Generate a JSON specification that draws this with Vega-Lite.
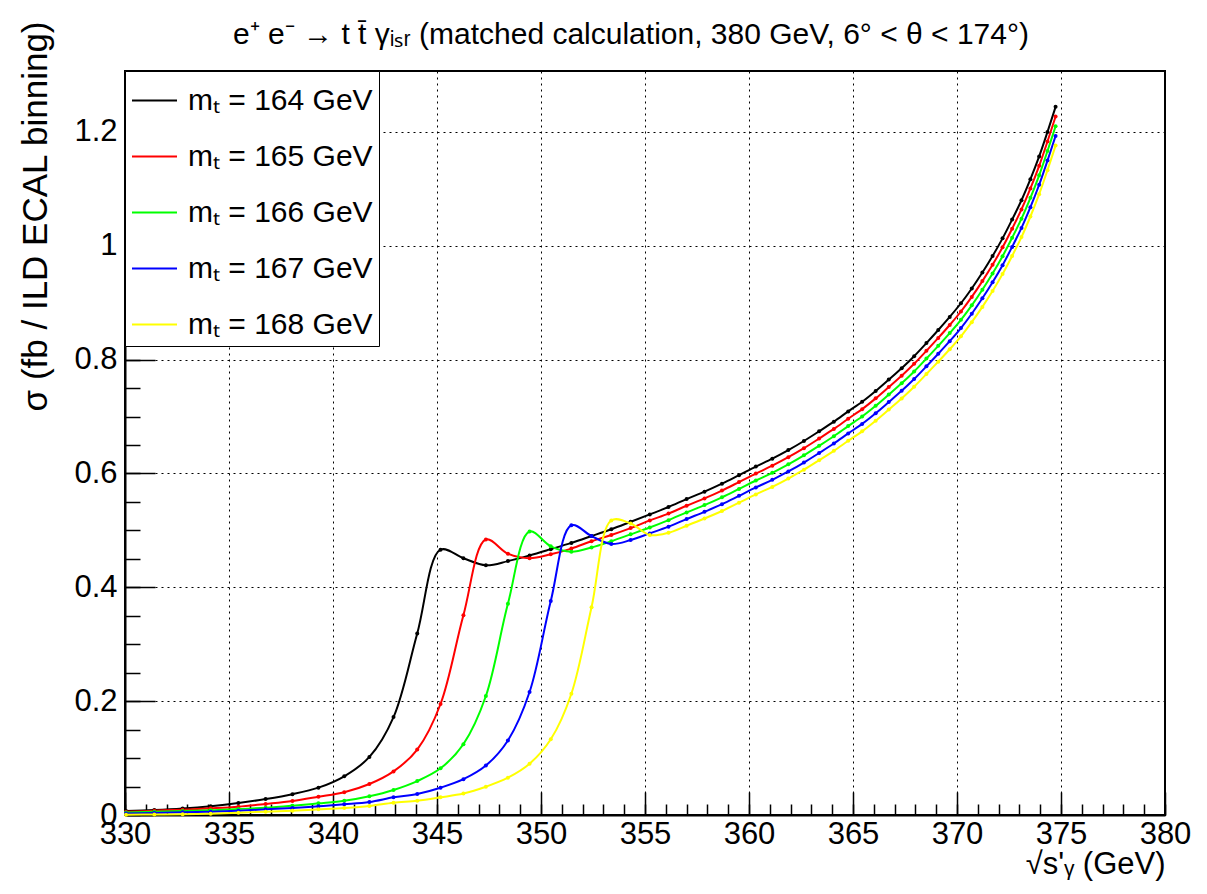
{
  "$schema": "https://vega.github.io/schema/vega-lite/v6.json",
  "width": 1040,
  "height": 744,
  "autosize": {"type": "none"},
  "padding": {"left": 125, "top": 71, "right": 42, "bottom": 79},
  "background": "white",
  "config": {"font": "Liberation Sans", "view": {"stroke": "black", "strokeWidth": 2}},
  "title": {"text": "e⁺ e⁻ → t t̄ γᵢₛᵣ (matched calculation, 380 GeV, 6° < θ < 174°)", "fontSize": 30, "fontWeight": "normal", "font": "Liberation Sans", "color": "black", "offset": 0, "dy": 29, "dx": -14, "anchor": "middle", "frame": "group"},
  "data": {"values": [
    {"x": 330.05, "m164": 0.0070, "m165": 0.0056, "m166": 0.0042, "m167": 0.0027, "m168": 0.0005},
    {"x": 331.41, "m164": 0.0088, "m165": 0.0076, "m166": 0.0058, "m167": 0.0035, "m168": 0.0009},
    {"x": 332.77, "m164": 0.0115, "m165": 0.0093, "m166": 0.0070, "m167": 0.0047, "m168": 0.0013},
    {"x": 334.12, "m164": 0.0155, "m165": 0.0117, "m166": 0.0082, "m167": 0.0058, "m168": 0.0023},
    {"x": 335.45, "m164": 0.021, "m165": 0.0146, "m166": 0.0105, "m167": 0.0076, "m168": 0.0041},
    {"x": 336.76, "m164": 0.028, "m165": 0.0193, "m166": 0.0128, "m167": 0.0100, "m168": 0.0058},
    {"x": 338.05, "m164": 0.0365, "m165": 0.0245, "m166": 0.0164, "m167": 0.0123, "m168": 0.0076},
    {"x": 339.3, "m164": 0.048, "m165": 0.032, "m166": 0.0205, "m167": 0.0152, "m168": 0.0099},
    {"x": 340.54, "m164": 0.068, "m165": 0.040, "m166": 0.025, "m167": 0.0187, "m168": 0.0123},
    {"x": 341.75, "m164": 0.102, "m165": 0.0544, "m166": 0.033, "m167": 0.0228, "m168": 0.0158},
    {"x": 342.91, "m164": 0.172, "m165": 0.0766, "m166": 0.044, "m167": 0.031, "m168": 0.0216},
    {"x": 344.05, "m164": 0.319, "m165": 0.115, "m166": 0.0596, "m167": 0.037, "m168": 0.025},
    {"x": 345.17, "m164": 0.466, "m165": 0.195, "m166": 0.082, "m167": 0.048, "m168": 0.031},
    {"x": 346.27, "m164": 0.451, "m165": 0.351, "m166": 0.1245, "m167": 0.063, "m168": 0.0377},
    {"x": 347.35, "m164": 0.4386, "m165": 0.484, "m166": 0.209, "m167": 0.087, "m168": 0.0497},
    {"x": 348.41, "m164": 0.446, "m165": 0.459, "m166": 0.371, "m167": 0.131, "m168": 0.0655},
    {"x": 349.45, "m164": 0.456, "m165": 0.451, "m166": 0.498, "m167": 0.216, "m168": 0.090},
    {"x": 350.47, "m164": 0.467, "m165": 0.458, "m166": 0.472, "m167": 0.376, "m168": 0.133},
    {"x": 351.46, "m164": 0.478, "m165": 0.468, "m166": 0.4626, "m167": 0.509, "m168": 0.213},
    {"x": 352.43, "m164": 0.490, "m165": 0.481, "m166": 0.470, "m167": 0.490, "m168": 0.365},
    {"x": 353.38, "m164": 0.502, "m165": 0.492, "m166": 0.481, "m167": 0.476, "m168": 0.5175},
    {"x": 354.31, "m164": 0.515, "m165": 0.504, "m166": 0.493, "m167": 0.483, "m168": 0.512},
    {"x": 355.23, "m164": 0.528, "m165": 0.5175, "m166": 0.505, "m167": 0.4947, "m168": 0.492},
    {"x": 356.13, "m164": 0.541, "m165": 0.5295, "m166": 0.518, "m167": 0.5065, "m168": 0.496},
    {"x": 357.0, "m164": 0.555, "m165": 0.5433, "m166": 0.5316, "m167": 0.5199, "m168": 0.5082},
    {"x": 357.86, "m164": 0.568, "m165": 0.5562, "m166": 0.5444, "m167": 0.5326, "m168": 0.5208},
    {"x": 358.7, "m164": 0.582, "m165": 0.570, "m166": 0.558, "m167": 0.546, "m168": 0.534},
    {"x": 359.52, "m164": 0.597, "m165": 0.5849, "m166": 0.5728, "m167": 0.5607, "m168": 0.5486},
    {"x": 360.33, "m164": 0.612, "m165": 0.5998, "m166": 0.5876, "m167": 0.5754, "m168": 0.5632},
    {"x": 361.12, "m164": 0.626, "m165": 0.6136, "m166": 0.6012, "m167": 0.5888, "m168": 0.5764},
    {"x": 361.89, "m164": 0.641, "m165": 0.6285, "m166": 0.616, "m167": 0.6035, "m168": 0.591},
    {"x": 362.64, "m164": 0.657, "m165": 0.6444, "m166": 0.6318, "m167": 0.6192, "m168": 0.6066},
    {"x": 363.37, "m164": 0.674, "m165": 0.6613, "m166": 0.6486, "m167": 0.6359, "m168": 0.6232},
    {"x": 364.08, "m164": 0.691, "m165": 0.6782, "m166": 0.6654, "m167": 0.6526, "m168": 0.6398},
    {"x": 364.77, "m164": 0.709, "m165": 0.6961, "m166": 0.6832, "m167": 0.6703, "m168": 0.6574},
    {"x": 365.44, "m164": 0.726, "m165": 0.713, "m166": 0.700, "m167": 0.687, "m168": 0.674},
    {"x": 366.09, "m164": 0.745, "m165": 0.7319, "m166": 0.7188, "m167": 0.7057, "m168": 0.6926},
    {"x": 366.72, "m164": 0.765, "m165": 0.7518, "m166": 0.7386, "m167": 0.7254, "m168": 0.7122},
    {"x": 367.34, "m164": 0.785, "m165": 0.7717, "m166": 0.7584, "m167": 0.7451, "m168": 0.7318},
    {"x": 367.94, "m164": 0.806, "m165": 0.7926, "m166": 0.7792, "m167": 0.7658, "m168": 0.7524},
    {"x": 368.53, "m164": 0.829, "m165": 0.8154, "m166": 0.8018, "m167": 0.7882, "m168": 0.7746},
    {"x": 369.1, "m164": 0.852, "m165": 0.8381, "m166": 0.8242, "m167": 0.8103, "m168": 0.7964},
    {"x": 369.65, "m164": 0.875, "m165": 0.8608, "m166": 0.8466, "m167": 0.8324, "m168": 0.8182},
    {"x": 370.19, "m164": 0.899, "m165": 0.8845, "m166": 0.870, "m167": 0.8555, "m168": 0.841},
    {"x": 370.71, "m164": 0.925, "m165": 0.9102, "m166": 0.8954, "m167": 0.8806, "m168": 0.8658},
    {"x": 371.22, "m164": 0.953, "m165": 0.9379, "m166": 0.9228, "m167": 0.9077, "m168": 0.8926},
    {"x": 371.71, "m164": 0.982, "m165": 0.9666, "m166": 0.9512, "m167": 0.9358, "m168": 0.9204},
    {"x": 372.19, "m164": 1.013, "m165": 0.9973, "m166": 0.9816, "m167": 0.9659, "m168": 0.9502},
    {"x": 372.65, "m164": 1.046, "m165": 1.030, "m166": 1.014, "m167": 0.998, "m168": 0.982},
    {"x": 373.1, "m164": 1.080, "m165": 1.0638, "m166": 1.0476, "m167": 1.0314, "m168": 1.0152},
    {"x": 373.53, "m164": 1.117, "m165": 1.1006, "m166": 1.0842, "m167": 1.0678, "m168": 1.0514},
    {"x": 373.95, "m164": 1.157, "m165": 1.1404, "m166": 1.1238, "m167": 1.1072, "m168": 1.0906},
    {"x": 374.35, "m164": 1.200, "m165": 1.1832, "m166": 1.1664, "m167": 1.1496, "m168": 1.1328},
    {"x": 374.74, "m164": 1.244, "m165": 1.227, "m166": 1.210, "m167": 1.193, "m168": 1.176}
  ]},
  "transform": [{"fold": ["m164", "m165", "m166", "m167", "m168"], "as": ["mass", "sigma"]}],
  "layer": [
    {
      "mark": {"type": "line", "interpolate": "catmull-rom", "strokeWidth": 2},
      "encoding": {
        "x": {"field": "x", "type": "quantitative",
          "scale": {"domain": [330, 380], "nice": false, "zero": false},
          "axis": {"orient": "bottom", "values": [330, 335, 340, 345, 350, 355, 360, 365, 370, 375, 380], "format": "d",
            "title": "√s'ᵧ (GeV)", "titleFontSize": 31, "titleFontWeight": "normal", "titleColor": "black", "titleFont": "Liberation Sans",
            "titleAnchor": "end", "titleAlign": "right", "titleX": 1040, "titleY": 58, "titleBaseline": "alphabetic",
            "grid": true, "gridColor": "black", "gridDash": [2, 4], "gridWidth": 1, "gridOpacity": 1,
            "tickSize": -23, "tickColor": "black", "tickWidth": 1.5,
            "domainColor": "black", "domainWidth": 2,
            "labelFontSize": 31, "labelColor": "black", "labelFont": "Liberation Sans", "labelPadding": 27, "labelFlush": false, "labelOverlap": false}},
        "y": {"field": "sigma", "type": "quantitative",
          "scale": {"domain": [0, 1.307], "nice": false},
          "axis": {"orient": "left", "values": [0, 0.2, 0.4, 0.6, 0.8, 1, 1.2], "format": "~g",
            "title": "σ (fb / ILD ECAL binning)", "titleFontSize": 35, "titleFontWeight": "normal", "titleColor": "black", "titleFont": "Liberation Sans",
            "titleAngle": -90, "titleAnchor": "end", "titleAlign": "right", "titleX": -79, "titleY": -50, "titleBaseline": "alphabetic",
            "grid": true, "gridColor": "black", "gridDash": [2, 4], "gridWidth": 1, "gridOpacity": 1,
            "tickSize": -30, "tickColor": "black", "tickWidth": 1.5,
            "domainColor": "black", "domainWidth": 2,
            "labelFontSize": 31, "labelColor": "black", "labelFont": "Liberation Sans", "labelPadding": 38, "labelFlush": false, "labelOverlap": false}},
        "color": {"field": "mass", "type": "nominal",
          "scale": {"domain": ["m164", "m165", "m166", "m167", "m168"], "range": ["#000000", "#ff0000", "#00ff00", "#0000ff", "#ffff00"]},
          "legend": {"orient": "top-left", "offset": 0, "title": null, "symbolType": "stroke", "symbolSize": 2025, "symbolStrokeWidth": 2,
            "labelFontSize": 30, "labelFont": "Liberation Sans", "labelColor": "black", "labelLimit": 400,
            "labelExpr": "'mₜ = ' + slice(datum.label, 1) + ' GeV'",
            "strokeColor": "black", "fillColor": "white", "padding": 6, "rowPadding": 17, "labelOffset": 10}}
      }
    },
    {
      "mark": {"type": "point", "filled": true, "size": 16, "opacity": 1},
      "encoding": {
        "x": {"field": "x", "type": "quantitative",
          "scale": {"domain": [330, 380], "nice": false, "zero": false},
          "axis": {"orient": "bottom", "values": [330,331,332,333,334,335,336,337,338,339,340,341,342,343,344,345,346,347,348,349,350,351,352,353,354,355,356,357,358,359,360,361,362,363,364,365,366,367,368,369,370,371,372,373,374,375,376,377,378,379,380],
            "labels": false, "grid": false, "domain": false, "title": null, "tickSize": -11, "tickColor": "black", "tickWidth": 1.5}},
        "y": {"field": "sigma", "type": "quantitative",
          "scale": {"domain": [0, 1.307], "nice": false},
          "axis": {"orient": "left", "values": [0,0.05,0.1,0.15,0.2,0.25,0.3,0.35,0.4,0.45,0.5,0.55,0.6,0.65,0.7,0.75,0.8,0.85,0.9,0.95,1,1.05,1.1,1.15,1.2,1.25,1.3],
            "labels": false, "grid": false, "domain": false, "title": null, "tickSize": -15, "tickColor": "black", "tickWidth": 1.5}},
        "color": {"field": "mass", "type": "nominal",
          "scale": {"domain": ["m164", "m165", "m166", "m167", "m168"], "range": ["#000000", "#ff0000", "#00ff00", "#0000ff", "#ffff00"]},
          "legend": {"orient": "top-left", "offset": 0, "title": null, "symbolType": "stroke", "symbolSize": 2025, "symbolStrokeWidth": 2,
            "labelFontSize": 30, "labelFont": "Liberation Sans", "labelColor": "black", "labelLimit": 400,
            "labelExpr": "'mₜ = ' + slice(datum.label, 1) + ' GeV'",
            "strokeColor": "black", "fillColor": "white", "padding": 6, "rowPadding": 17, "labelOffset": 10}}
      }
    }
  ],
  "resolve": {"axis": {"x": "independent", "y": "independent"}}
}
